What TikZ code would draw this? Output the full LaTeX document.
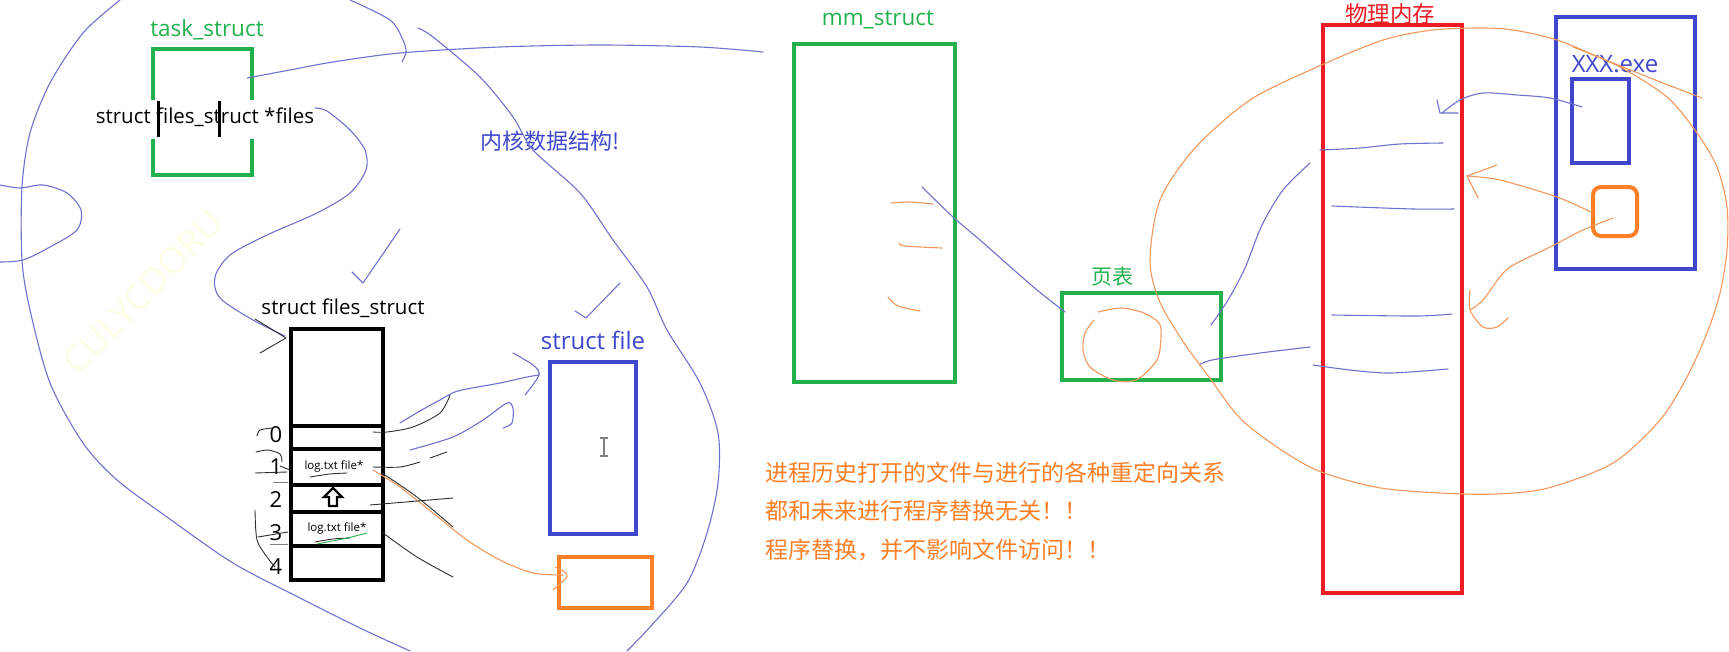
\documentclass[tikz,border=0pt]{standalone}
\usepackage{fontspec}
\setmainfont{Open Sans}
\newfontfamily\cjk{Noto Sans CJK SC}
\definecolor{pgreen}{RGB}{34,177,76}
\definecolor{pblue}{RGB}{63,72,204}
\definecolor{pred}{RGB}{237,28,36}
\definecolor{porange}{RGB}{255,127,39}
\definecolor{penblue}{RGB}{112,112,205}
\definecolor{penorange}{RGB}{242,152,92}
\definecolor{pengray}{RGB}{45,45,45}
\definecolor{wmark}{RGB}{253,253,230}

\begin{document}
\begin{tikzpicture}[x=1pt,y=-1pt,
    box/.style={line width=4pt},
    pen/.style={penblue, line width=1.1pt, line cap=round, line join=round},
    open/.style={penorange, line width=1.1pt, line cap=round, line join=round},
    kpen/.style={pengray, line width=0.9pt, line cap=round, line join=round},
    lbl/.style={inner sep=0pt, font=\fontsize{22.5}{26}\selectfont},
    clbl/.style={inner sep=0pt, font=\cjk\fontsize{22.5}{26}\selectfont},
    num/.style={inner sep=0pt, font=\fontsize{22}{26}\selectfont}]
        \useasboundingbox (0,0) rectangle (1729,651);

        % watermark
        \node[text=wmark, rotate=46, inner sep=0pt, font=\fontsize{36}{40}\selectfont] (wm) at (143,292) {CULYCDORU};

        % task_struct
        \node[lbl, text=pgreen] (tasklbl) at (207,30) {task\_struct};
        \draw [box, pgreen] (153,100) -- (153,49) -- (252,49) -- (252,100);
        \draw [box, pgreen] (153,139) -- (153,175) -- (252,175) -- (252,139);
        \node[inner sep=0pt, font=\fontsize{20.5}{24}\selectfont] (filesptr) at (205,117) {struct files\_struct *files};
        \draw [line width=3pt] (158,101) -- (158,137);
        \draw [line width=3pt] (219,101) -- (219,137);

        \node[clbl, text=pblue, font=\cjk\fontsize{22}{26}\selectfont] (kernel) at (550,141) {内核数据结构!};

        % struct files_struct
        \node[inner sep=0pt, font=\fontsize{20.5}{24}\selectfont] (fslbl) at (343,308) {struct files\_struct};
        \draw [line width=4.5pt] (291,329) rectangle (383,580);
        \foreach \y in {426,449,485,512,546}
            \draw [line width=4.5pt] (291,\y) -- (383,\y);
        \foreach \i/\y in {0/435,1/467,2/500,3/533,4/567}
            \node[num] (n\i) at (276,\y) {\i};
        \node[inner sep=0pt, font=\fontsize{11.5}{13}\selectfont] (log1) at (334,466) {log.txt file*};
        \node[inner sep=0pt, font=\fontsize{11.5}{13}\selectfont] (log3) at (337,528) {log.txt file*};
        \draw [line width=2.2pt, line join=miter] (333,488) -- (342,497) -- (337,497) -- (337,506) -- (329,506) -- (329,497) -- (324,497) -- cycle;

        % struct file
        \node[lbl, text=pblue, font=\fontsize{24}{28}\selectfont] (filelbl) at (593,340) {struct file};
        \draw [box, pblue] (550,362) rectangle (636,534);
        \draw [gray, line width=1.2pt] (600,438) -- (608,438) (604,438) -- (604,456) (600,456) -- (608,456);
        \draw [box, porange] (559,557) rectangle (652,608);

        % mm_struct
        \node[lbl, text=pgreen] (mmlbl) at (878,20) {mm\_struct};
        \draw [box, pgreen] (794,44) rectangle (955,382);

        % page table
        \node[clbl, text=pgreen, font=\cjk\fontsize{21}{24}\selectfont] (pglbl) at (1112,277) {页表};
        \draw [box, pgreen] (1062,293) rectangle (1221,380);

        % physical memory
        \node[clbl, text=pred] (memlbl) at (1390,14) {物理内存};
        \draw [box, pred] (1323,25) rectangle (1462,593);

        % XXX.exe
        \draw [box, pblue] (1556,17) rectangle (1695,269);
        \node[lbl, text=pblue, font=\fontsize{24}{28}\selectfont] (exelbl) at (1615,64) {XXX.exe};
        \draw [box, pblue] (1572,79) rectangle (1629,163);
        \draw [box, porange, rounded corners=8pt] (1593,187) rectangle (1637,236);

        % note
        \node[anchor=west, align=left, text=porange, inner sep=0pt, font=\cjk\fontsize{23}{38.5}\selectfont] (note) at (765,511) {进程历史打开的文件与进行的各种重定向关系\\都和未来进行程序替换无关！！\\程序替换，并不影响文件访问！！};

        % blue pen strokes
        \draw [pen] plot[smooth] coordinates {(120,0) (83,33) (50,83) (30,133) (22,187) (22,260) (30,310) (50,383) (83,443) (117,480) (167,517) (233,563) (300,598) (360,628) (410,651)};
        \draw [pen] plot[smooth] coordinates {(0,185) (20,188) (43,185) (67,193) (81,210) (77,230) (50,247) (23,260) (0,262)};
        \draw [pen] plot[smooth] coordinates {(315,108) (327,111) (350,130) (365,150) (366,170) (350,193) (317,213) (267,235) (230,255) (215,277) (220,298) (253,320) (285,336)};
        \draw [kpen] (255,319) -- (286,338) -- (260,353);
        \draw [pen] plot[smooth] coordinates {(247,78) (290,70) (333,62) (400,53) (500,47) (600,45) (700,47) (763,52)};
        \draw [pen] plot[smooth] coordinates {(350,0) (390,20) (403,40) (406,52) (402,62)};
        \draw [pen] plot[smooth] coordinates {(418,28) (433,37) (480,77) (513,117) (533,150) (580,193) (613,240) (647,287) (667,330) (700,383) (718,433) (718,483) (707,533) (687,583) (650,627) (627,651)};
        \draw [pen] (352,272) -- (363,283) -- (400,229);
        \draw [pen] (575,311) -- (586,318) -- (620,283);
        \draw [pen] plot[smooth] coordinates {(400,423) (420,411) (440,400) (458,391) (500,383) (527,377) (539,375)};
        \draw [pen] plot[smooth] coordinates {(513,353) (533,365) (539,375) (525,395)};
        \draw [pen] plot[smooth] coordinates {(410,450) (453,437) (483,420) (507,403) (513,408) (512,423) (503,428)};
        \draw [pen] plot[smooth] coordinates {(922,187) (953,217) (980,240) (1006,263) (1037,290) (1065,312)};
        \draw [pen] plot[smooth] coordinates {(1211,325) (1228,300) (1245,268) (1262,225) (1283,190) (1310,163)};
        \draw [pen] plot[smooth] coordinates {(1199,365) (1212,360) (1260,353) (1310,347)};
        \draw [pen] plot[smooth] coordinates {(1320,150) (1360,148) (1400,144) (1443,143)};
        \draw [pen] plot[smooth] coordinates {(1332,206) (1413,209) (1454,209)};
        \draw [pen] plot[smooth] coordinates {(1332,315) (1417,316) (1452,314)};
        \draw [pen] plot[smooth] coordinates {(1313,365) (1350,370) (1390,373) (1448,369)};
        \draw [pen] plot[smooth] coordinates {(1582,107) (1550,98) (1517,95) (1483,93) (1460,100) (1442,113)};
        \draw [pen] (1437,100) -- (1440,113) -- (1458,113);

        % orange pen strokes
        \draw [open] plot[smooth] coordinates {(891,203) (910,202) (933,204)};
        \draw [open] plot[smooth] coordinates {(899,243) (905,246) (942,248)};
        \draw [open] plot[smooth] coordinates {(888,297) (898,306) (920,311)};
        \draw [open] plot[smooth] coordinates {(1098,312) (1121,308) (1144,313) (1159,323) (1161,336) (1157,360) (1136,380) (1113,380) (1090,367) (1083,350) (1085,333) (1094,320)};
        \draw [open] plot[smooth] coordinates {(1702,98) (1663,83) (1613,63) (1557,40) (1513,30) (1480,28) (1433,30) (1383,40) (1317,67) (1250,100) (1195,148) (1160,200) (1150,260) (1159,300) (1182,340) (1209,377) (1245,423) (1310,467) (1375,487) (1440,493) (1496,494) (1548,488) (1613,463) (1660,420) (1687,377) (1707,333) (1720,293) (1727,250) (1727,207) (1717,167) (1697,133) (1667,97) (1620,67) (1573,47)};
        \draw [open] plot[smooth] coordinates {(373,470) (400,487) (433,513) (467,540) (500,560) (533,573) (563,575)};
        \draw [open] plot[smooth] coordinates {(555,567) (565,572) (567,577) (562,582) (553,590)};
        \draw [open] plot[smooth] coordinates {(1593,213) (1557,197) (1500,180) (1467,176)};
        \draw [open] (1497,165) -- (1467,176) -- (1478,198);
        \draw [open] plot[smooth] coordinates {(1613,218) (1583,230) (1550,247) (1517,263) (1503,273) (1483,300) (1470,310)};
        \draw [open] plot[smooth] coordinates {(1470,290) (1470,310) (1483,327) (1497,327) (1508,318)};

        % black pen strokes
        \draw [kpen] plot[smooth] coordinates {(373,432) (387,432) (413,427) (440,413) (450,395)};
        \draw [kpen] plot[smooth] coordinates {(373,467) (400,467) (420,462)};
        \draw [kpen] (430,458) -- (447,452);
        \draw [kpen] plot[smooth] coordinates {(382,473) (417,497) (453,527)};
        \draw [kpen] (370,505) -- (453,498);
        \draw [kpen] plot[smooth] coordinates {(383,533) (417,557) (453,577)};
        \draw [kpen] plot[smooth] coordinates {(257,436) (260,430) (272,428)};
        \draw [kpen] plot[smooth] coordinates {(256,452) (268,450) (280,454) (282,462)};
        \draw [kpen] (255,473) -- (287,472);
        \draw [kpen] (280,466) -- (290,470);
        \draw [kpen] (258,537) -- (288,532);
        \draw [kpen] plot[smooth] coordinates {(255,510) (257,540) (267,557) (275,567)};
        \draw [gray, line width=0.9pt] (273,482) -- (288,482);
        \draw [gray, line width=0.9pt] (270,544) -- (288,544);
        \draw [kpen] plot[smooth] coordinates {(310,477) (330,474) (347,473)};
        \draw [kpen] plot[smooth] coordinates {(315,542) (333,539) (350,538)};
        \draw [pgreen, line width=0.9pt] plot[smooth] coordinates {(317,544) (347,538) (367,533)};
\end{tikzpicture}
\end{document}
